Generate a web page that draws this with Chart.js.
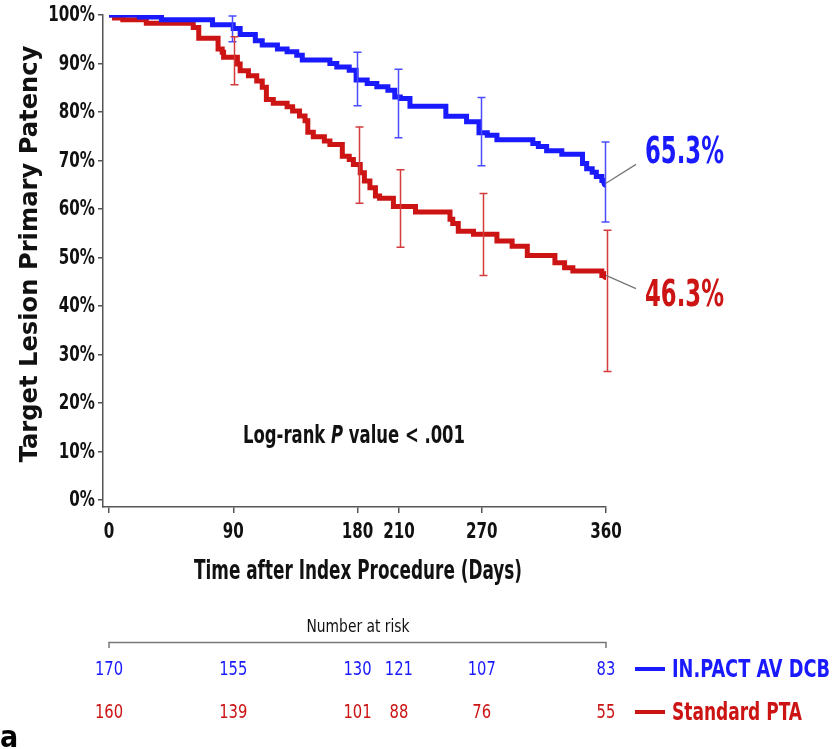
<!DOCTYPE html>
<html>
<head>
<meta charset="utf-8">
<script src="https://cdn.jsdelivr.net/npm/chart.js@4.4.1/dist/chart.umd.min.js"></script>
<style>
  html, body { margin: 0; padding: 0; background: #ffffff; }
  #wrap { width: 835px; height: 749px; position: relative; }
</style>
</head>
<body>
<div id="wrap"><canvas id="km"></canvas></div>
<script>
// Kaplan-Meier estimates of target lesion primary patency (%), by day
const dcbDays = [0, 22, 38, 75, 90, 95, 106, 111, 122, 129, 136, 140, 160, 165, 174, 179, 187, 194, 202, 207, 211, 218, 244, 259, 268, 274, 281, 307, 311, 317, 328, 343, 346, 350, 353, 357, 360];
const dcbSurv = [100, 99.6, 99.0, 98.0, 97.2, 96.0, 94.7, 93.8, 93.0, 92.4, 91.7, 90.7, 90.0, 89.3, 88.6, 86.6, 85.9, 85.2, 84.5, 83.1, 82.8, 81.2, 79.1, 78.0, 75.7, 75.2, 74.3, 73.5, 72.9, 72.0, 71.3, 69.4, 68.3, 67.6, 66.7, 65.9, 65.3];

const ptaDays = [0, 4, 10, 27, 61, 65, 79, 82, 83, 93, 95, 101, 107, 111, 114, 119, 129, 133, 138, 142, 144, 148, 156, 160, 169, 174, 177, 182, 185, 189, 193, 196, 206, 222, 247, 249, 253, 264, 281, 292, 303, 323, 330, 336, 357, 360];
const ptaSurv = [100, 99.4, 99.0, 98.3, 97.4, 95.2, 93.0, 92.3, 91.3, 89.9, 88.5, 87.5, 86.4, 85.1, 82.6, 81.8, 81.1, 80.2, 79.2, 78.2, 75.8, 74.9, 74.0, 73.3, 70.9, 70.2, 69.2, 67.5, 65.8, 64.4, 62.7, 62.2, 60.5, 59.4, 57.9, 57.0, 55.4, 54.8, 53.4, 52.3, 50.4, 48.9, 47.9, 47.2, 46.3, 46.3];

// 95% confidence intervals at the landmark days
const ciDays = [90, 180, 210, 270, 360];
const dcbLow  = [94.5, 81.3, 74.7, 68.9, 57.3];
const dcbHigh = [99.8, 92.3, 88.8, 83.0, 73.8];
const ptaLow  = [85.6, 61.2, 52.1, 46.3, 26.5];
const ptaHigh = [95.5, 76.9, 68.1, 63.2, 55.6];

// Axis ticks
const xTicks = [0, 90, 180, 210, 270, 360];
const yTicks = [0, 10, 20, 30, 40, 50, 60, 70, 80, 90, 100];

// Number at risk
const riskDays = [0, 90, 180, 210, 270, 360];
const dcbRisk = [170, 155, 130, 121, 107, 83];
const ptaRisk = [160, 139, 101, 88, 76, 55];

const seriesNames = ['IN.PACT AV DCB', 'Standard PTA'];

const BLUE = '#1a1aff';
const RED = '#cc1414';
const BLUE_CI = '#4b4bff';
const RED_CI = '#d63b3b';
const INK = '#111111';
const COND = '"DejaVu Sans Condensed", "DejaVu Sans", sans-serif';

const toPoints = (days, vals) => days.map((d, i) => ({ x: d, y: vals[i] }));
const lastIdx = arr => arr.length - 1;

// Narrow text: a condensed face squeezed horizontally, either by a factor or to a width
function drawText(ctx, text, x, y, o) {
  const size = o.size, weight = o.weight || 'bold', style = o.style || 'normal';
  ctx.save();
  ctx.font = `${style} ${weight} ${size}px ${o.family || COND}`;
  const w = ctx.measureText(text).width;
  const k = o.width ? o.width / w : (o.sx || 0.8);
  ctx.translate(x, y);
  if (o.rotate) ctx.rotate(o.rotate);
  ctx.scale(k, 1);
  ctx.fillStyle = o.color || INK;
  ctx.textAlign = o.align || 'left';
  ctx.textBaseline = o.baseline || 'middle';
  ctx.fillText(text, 0, 0);
  ctx.restore();
  return w * k;
}

const overlay = {
  id: 'overlay',
  afterDatasetsDraw(chart) {
    const ctx = chart.ctx;
    const xs = chart.scales.x, ys = chart.scales.y;

    // confidence interval bars
    const bars = (low, high, color, dx) => {
      ctx.save();
      ctx.strokeStyle = color;
      ctx.lineWidth = 1.5;
      ciDays.forEach((d, i) => {
        const x = Math.round(xs.getPixelForValue(d)) + dx;
        const y1 = ys.getPixelForValue(high[i]);
        const y2 = ys.getPixelForValue(low[i]);
        ctx.beginPath();
        ctx.moveTo(x, y1); ctx.lineTo(x, y2);
        ctx.moveTo(x - 4, y1); ctx.lineTo(x + 4, y1);
        ctx.moveTo(x - 4, y2); ctx.lineTo(x + 4, y2);
        ctx.stroke();
      });
      ctx.restore();
    };
    bars(dcbLow, dcbHigh, BLUE_CI, -0.5);
    bars(ptaLow, ptaHigh, RED_CI, 1.5);

    // final estimates with leader lines
    const endLabel = (days, vals, color, dy) => {
      const i = lastIdx(vals);
      const px = xs.getPixelForValue(days[i]);
      const py = ys.getPixelForValue(vals[i]);
      ctx.save();
      ctx.strokeStyle = '#777';
      ctx.lineWidth = 1.3;
      ctx.beginPath();
      ctx.moveTo(px, py);
      ctx.lineTo(px + 30, py + dy * 0.63);
      ctx.stroke();
      ctx.restore();
      drawText(ctx, vals[i].toFixed(1) + '%', px + 39, py + dy, { size: 37, width: 79, color });
    };
    endLabel(dcbDays, dcbSurv, BLUE, -30);
    endLabel(ptaDays, ptaSurv, RED, 21);
  },
  afterDraw(chart) {
    const ctx = chart.ctx;
    const xs = chart.scales.x, ys = chart.scales.y;

    // tick labels
    xs.ticks.forEach(t => {
      drawText(ctx, String(t.value), xs.getPixelForValue(t.value), 533, { size: 21, sx: 0.8, align: 'center' });
    });
    ys.ticks.forEach(t => {
      drawText(ctx, t.value + '%', 95, ys.getPixelForValue(t.value) + 1, { size: 21, sx: 0.8, align: 'right' });
    });

    // axis titles
    drawText(ctx, 'Time after Index Procedure (Days)', 358, 572, { size: 26, width: 328, align: 'center' });
    drawText(ctx, 'Target Lesion Primary Patency', 31, 254, {
      size: 24, width: 417, align: 'center', family: '"DejaVu Sans", sans-serif', rotate: -Math.PI / 2
    });

    // log-rank annotation
    const parts = [['normal', 'Log-rank '], ['italic', 'P'], ['normal', ' value < .001']];
    let total = 0;
    ctx.save();
    parts.forEach(([st, t]) => { ctx.font = `${st} bold 24px ${COND}`; total += ctx.measureText(t).width; });
    ctx.restore();
    const k = 222 / total;
    let tx = 243;
    parts.forEach(([st, t]) => {
      tx += drawText(ctx, t, tx, 437, { size: 24, style: st, sx: k });
    });

    // number at risk header and bracket
    const x0 = xs.getPixelForValue(riskDays[0]);
    const x1 = xs.getPixelForValue(riskDays[lastIdx(riskDays)]);
    drawText(ctx, 'Number at risk', 358, 627, { size: 18, weight: 'normal', width: 103, align: 'center' });
    ctx.save();
    ctx.strokeStyle = '#777';
    ctx.lineWidth = 1.5;
    ctx.beginPath();
    ctx.moveTo(x0, 648); ctx.lineTo(x0, 642.5); ctx.lineTo(x1, 642.5); ctx.lineTo(x1, 648);
    ctx.stroke();
    ctx.restore();

    // counts
    riskDays.forEach((d, i) => {
      const x = xs.getPixelForValue(d);
      drawText(ctx, String(dcbRisk[i]), x, 670, { size: 20, weight: 'normal', sx: 0.82, align: 'center', color: BLUE });
      drawText(ctx, String(ptaRisk[i]), x, 713, { size: 20, weight: 'normal', sx: 0.82, align: 'center', color: RED });
    });

    // legend
    const legend = [[seriesNames[0], BLUE, 669, 158], [seriesNames[1], RED, 712, 130]];
    legend.forEach(([name, color, y, w]) => {
      ctx.save();
      ctx.strokeStyle = color;
      ctx.lineWidth = 4;
      ctx.beginPath();
      ctx.moveTo(635, y); ctx.lineTo(665, y);
      ctx.stroke();
      ctx.restore();
      drawText(ctx, name, 672, y + 1, { size: 25, width: w, color });
    });

    // panel letter
    drawText(ctx, 'a', 0, 747, { size: 30, sx: 0.9, baseline: 'alphabetic', color: '#000', family: '"DejaVu Sans", sans-serif' });
  }
};

const pointSizes = n => ctx => (ctx.dataIndex === n - 1 ? 4.5 : 0);

new Chart(document.getElementById('km'), {
  type: 'line',
  data: {
    datasets: [
      {
        label: seriesNames[0],
        data: toPoints(dcbDays, dcbSurv),
        borderColor: BLUE,
        backgroundColor: BLUE,
        borderWidth: 5,
        stepped: true,
        borderJoinStyle: 'miter',
        borderCapStyle: 'butt',
        pointRadius: pointSizes(dcbDays.length),
        pointBorderWidth: 0,
        fill: false
      },
      {
        label: seriesNames[1],
        data: toPoints(ptaDays, ptaSurv),
        borderColor: RED,
        backgroundColor: RED,
        borderWidth: 5,
        stepped: true,
        borderJoinStyle: 'miter',
        borderCapStyle: 'butt',
        pointRadius: pointSizes(ptaDays.length),
        pointBorderWidth: 0,
        fill: false
      }
    ]
  },
  options: {
    responsive: true,
    maintainAspectRatio: false,
    animation: false,
    devicePixelRatio: 1,
    events: [],
    layout: { padding: { left: 0, top: 15, right: 229, bottom: 149 } },
    plugins: {
      legend: { display: false },
      tooltip: { enabled: false },
      title: { display: false }
    },
    scales: {
      x: {
        type: 'linear',
        min: -4.35,
        max: 360,
        afterBuildTicks: s => { s.ticks = xTicks.map(v => ({ value: v })); },
        afterFit: s => { s.height = 93; },
        ticks: { autoSkip: false, maxRotation: 0, color: 'rgba(0,0,0,0)', font: { size: 20 } },
        grid: { drawOnChartArea: false, drawTicks: true, tickLength: 6, color: '#555', lineWidth: 1.5 },
        border: { display: true, color: '#555', width: 1.5 }
      },
      y: {
        type: 'linear',
        min: -1.44,
        max: 100,
        afterBuildTicks: s => { s.ticks = yTicks.map(v => ({ value: v })); },
        afterFit: s => { s.width = 103; },
        ticks: { color: 'rgba(0,0,0,0)', font: { size: 20 }, callback: v => v + '%' },
        grid: { drawOnChartArea: false, drawTicks: true, tickLength: 5, color: '#555', lineWidth: 1.5 },
        border: { display: true, color: '#555', width: 1.5 }
      }
    }
  },
  plugins: [overlay]
});
</script>
</body>
</html>
